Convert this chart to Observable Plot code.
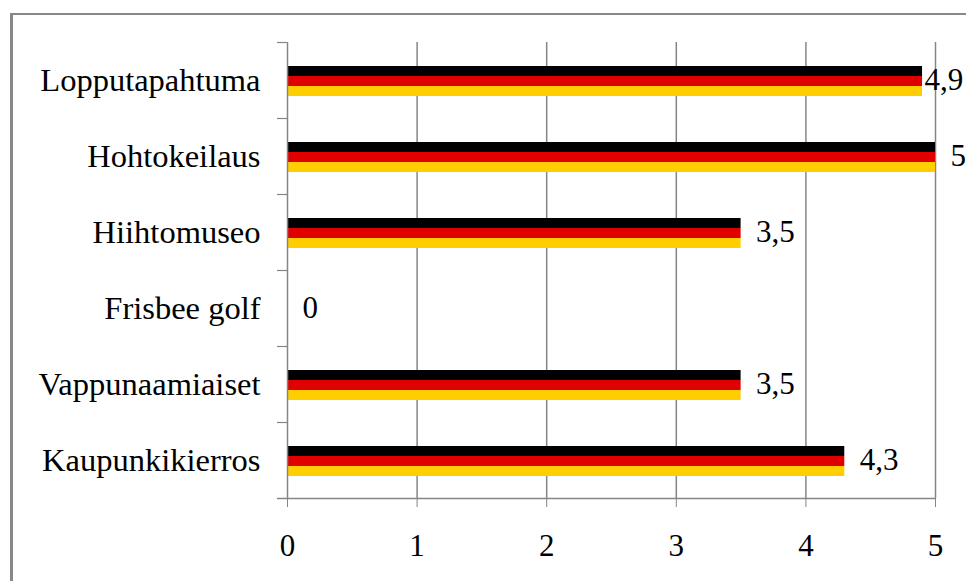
<!DOCTYPE html>
<html>
<head>
<meta charset="utf-8">
<script src="https://cdn.jsdelivr.net/npm/d3@7"></script>
<script src="https://cdn.jsdelivr.net/npm/@observablehq/plot@0.6"></script>
<style>
  html, body { margin: 0; padding: 0; background: #fff; }
  #wrap { position: relative; width: 966px; height: 581px; overflow: hidden; background: #fff; }
  #border { position: absolute; left: 10px; top: 13px; width: 2000px; height: 2000px;
            border-left: 3px solid #888888; border-top: 2px solid #888888; }
  #chart { position: absolute; left: 0; top: 0; }
  #chart svg, #chart svg text { font-family: "Liberation Serif", "Times New Roman", serif !important; }
</style>
</head>
<body>
<div id="wrap">
  <div id="border"></div>
  <div id="chart"></div>
</div>
<script>
const categories = ["Lopputapahtuma", "Hohtokeilaus", "Hiihtomuseo", "Frisbee golf", "Vappunaamiaiset", "Kaupunkikierros"];
const values = [4.9, 5, 3.5, 0, 3.5, 4.3];
const xTicks = [0, 1, 2, 3, 4, 5];
const stripeColors = ["#000000", "#E00000", "#FFCE00"];

const data = categories.map((c, i) => ({category: c, value: values[i]}));
const fmt = d => String(d.value).replace(".", ",");
const gray = "#868686";
const fs = 31;

const chart = Plot.plot({
  width: 966,
  height: 581,
  marginLeft: 287,
  marginRight: 31,
  marginTop: 42,
  marginBottom: 83,
  style: "font-family: 'Liberation Serif', 'Times New Roman', serif; font-size: 31px; background: transparent; color: black; overflow: visible;",
  x: {domain: [0, 5]},
  y: {domain: categories, padding: 0},
  marks: [
    Plot.gridX(xTicks.slice(1), {stroke: gray, strokeOpacity: 1, strokeWidth: 1.5}),
    Plot.barX(data, {x: "value", y: "category", fill: stripeColors[0], insetTop: 24, insetBottom: 42}),
    Plot.barX(data, {x: "value", y: "category", fill: stripeColors[1], insetTop: 34, insetBottom: 32}),
    Plot.barX(data, {x: "value", y: "category", fill: stripeColors[2], insetTop: 44, insetBottom: 22}),
    Plot.ruleX([0], {stroke: gray, strokeWidth: 1.5}),
    Plot.ruleY(categories, {y: d => d, x1: 0, x2: 0, insetLeft: -10, dy: -38, stroke: gray, strokeWidth: 1.2}),
    Plot.ruleY(categories.slice(-1), {y: d => d, x1: 0, x2: 5, insetLeft: -10, dy: 38, stroke: gray, strokeWidth: 1.5}),
    Plot.axisX(xTicks, {tickSize: 9, tickPadding: 26, stroke: gray, fill: "black", fontSize: fs, label: null, tickFormat: d => String(d)}),
    Plot.axisY({tickSize: 0, tickPadding: 27, fill: "black", fontSize: 32.5, label: null}),
    Plot.text(data, {filter: d => d.value < 4.6 || d.value >= 5, x: "value", y: "category", text: fmt,
      textAnchor: "start", dx: 15, fill: "black", fontSize: fs}),
    Plot.text(data, {filter: d => d.value >= 4.6 && d.value < 5, x: "value", y: "category", text: fmt,
      textAnchor: "start", dx: 2, fill: "black", fontSize: fs})
  ]
});
document.getElementById("chart").appendChild(chart);
</script>
</body>
</html>
